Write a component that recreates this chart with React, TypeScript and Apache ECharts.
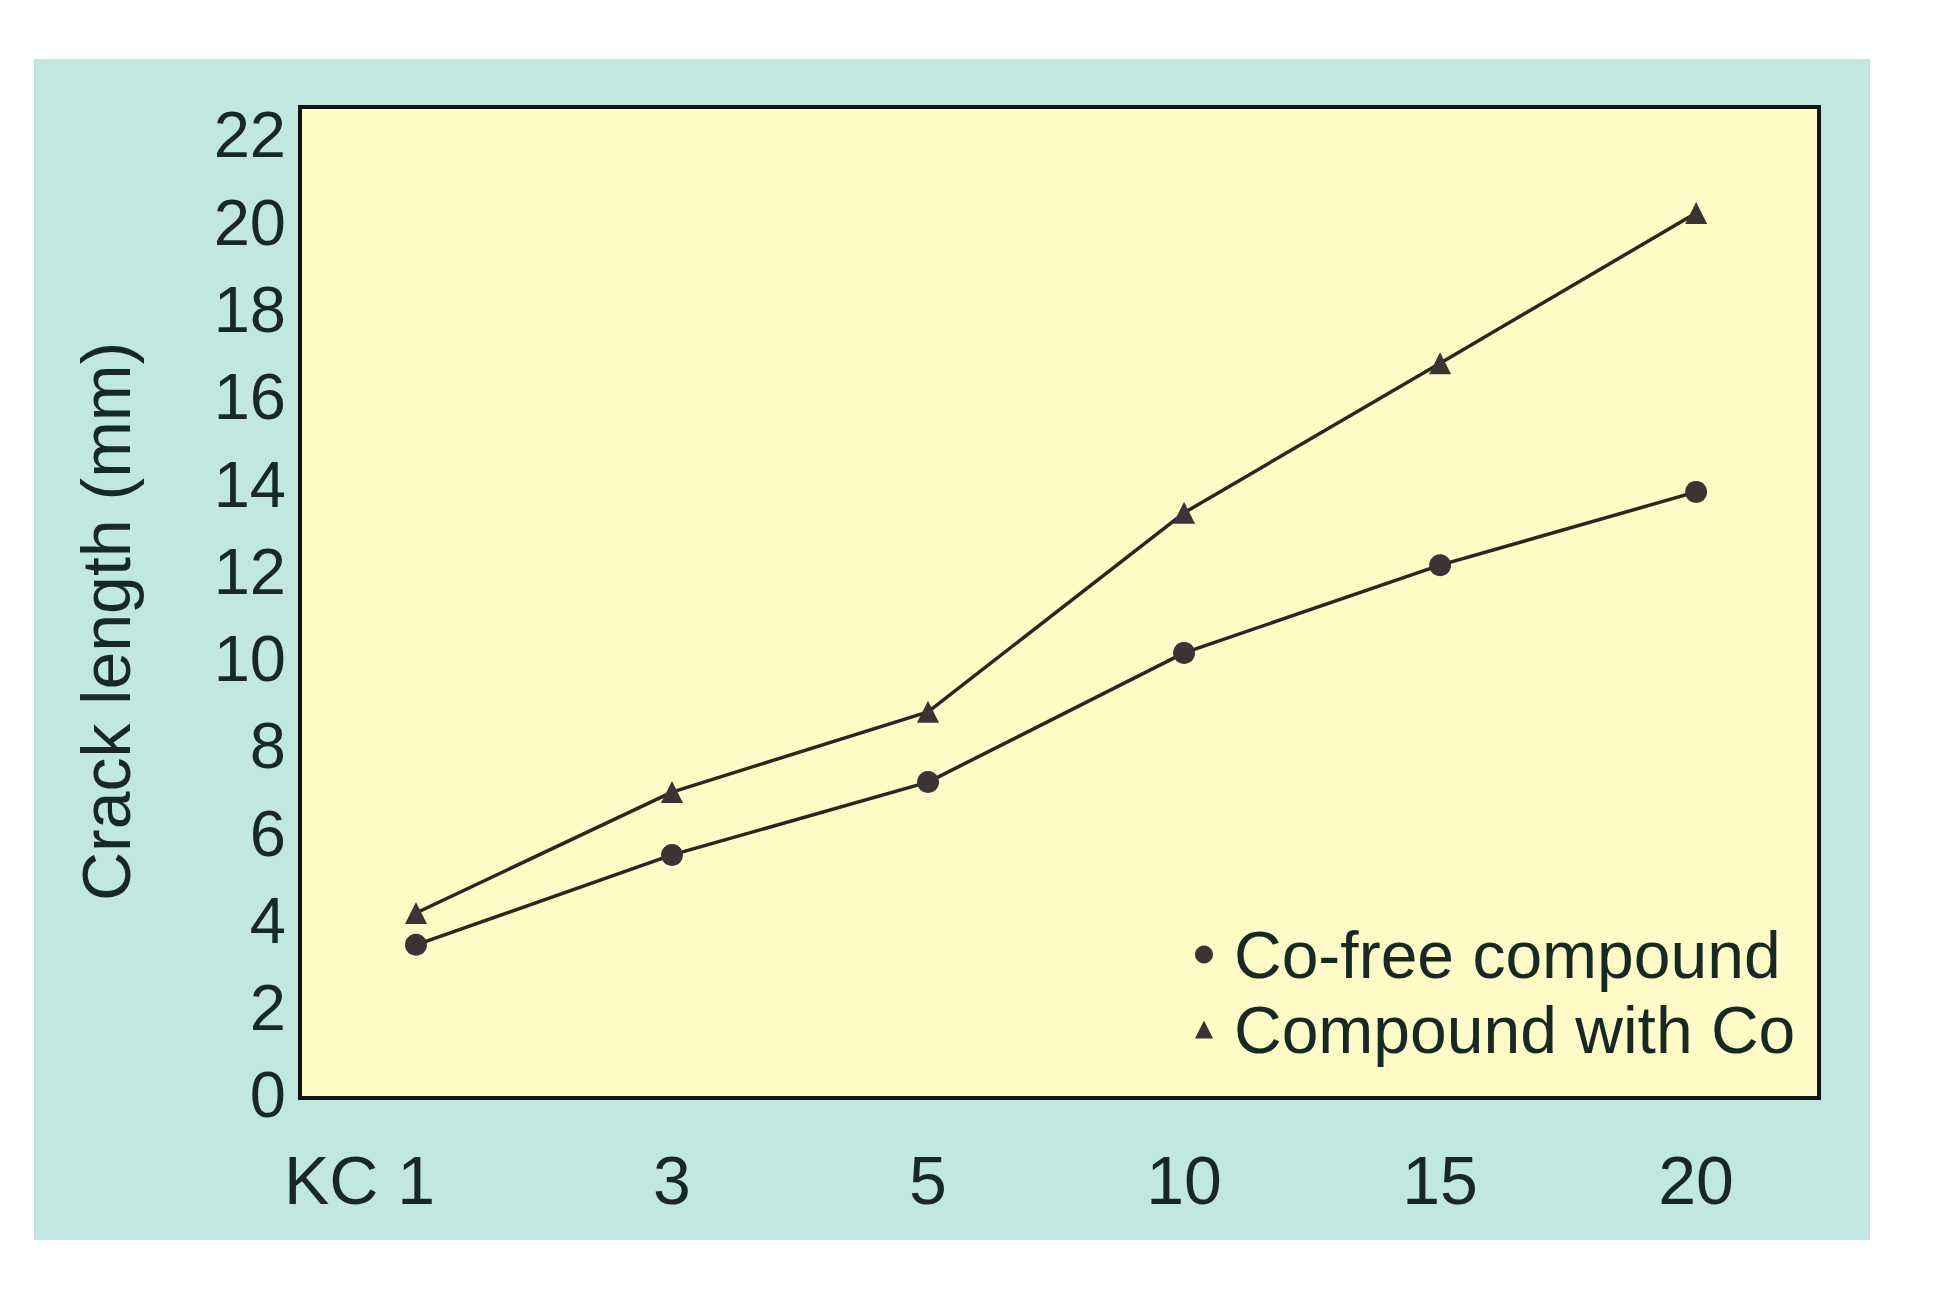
import React, { useEffect, useRef } from "react";
import * as echarts from "echarts";

// ---- data ----
const categories = ["KC 1", "3", "5", "10", "15", "20"];
const coFree = [3.44, 5.5, 7.17, 10.13, 12.14, 13.82];
const withCo = [4.17, 6.94, 8.78, 13.34, 16.77, 20.21];
const yTicks = [0, 2, 4, 6, 8, 10, 12, 14, 16, 18, 20, 22];
const seriesNames = ["Co-free compound", "Compound with Co"];
const yAxisTitle = "Crack length (mm)";

const FONT = "'Liberation Sans', Arial, Helvetica, sans-serif";
const TEXT = "#182824";
const MARK = "#3a3434";
const LINE = "#2a2620";

export default function App() {
  const ref = useRef<HTMLDivElement>(null);

  useEffect(() => {
    if (!ref.current) return;
    const chart = echarts.init(ref.current, null, { renderer: "svg" });

    const xIdx = categories.map((_, i) => i);

    const option: any = {
      animation: false,
      backgroundColor: "#ffffff",
      graphic: [
        {
          type: "rect",
          z: -100,
          shape: { x: 34, y: 59, width: 1836, height: 1181 },
          style: { fill: "#c0e8e0" },
        },
      ],
      grid: {
        left: 300,
        top: 107,
        width: 1519,
        height: 991,
        show: true,
        backgroundColor: "#fffbc6",
        borderColor: "#141414",
        borderWidth: 4,
      },
      xAxis: {
        type: "value",
        min: -0.453,
        max: 5.48,
        axisLine: { show: false },
        axisTick: { show: false },
        splitLine: { show: false },
        axisLabel: {
          customValues: xIdx,
          fontSize: 68,
          fontFamily: FONT,
          color: TEXT,
          margin: 48,
          formatter: (v: number) => {
            const i = Math.round(v);
            const lab = categories[i] ?? "";
            const sp = lab.lastIndexOf(" ");
            if (sp > 0) {
              return `{a|${lab.slice(0, sp + 1)}}{n|${lab.slice(sp + 1)}}`;
            }
            return lab;
          },
          rich: {
            a: { fontSize: 68, fontFamily: FONT, color: TEXT },
            n: { fontSize: 68, fontFamily: FONT, color: TEXT, padding: [0, 113, 0, 0] },
          },
        },
      },
      yAxis: {
        type: "value",
        min: -0.07,
        max: 22.64,
        axisLine: { show: false },
        axisTick: { show: false },
        splitLine: { show: false },
        axisLabel: {
          customValues: yTicks,
          fontSize: 65,
          fontFamily: FONT,
          color: TEXT,
          margin: 14,
        },
        name: yAxisTitle,
        nameLocation: "middle",
        nameGap: 160,
        nameRotate: 90,
        nameTextStyle: {
          fontSize: 68,
          fontFamily: FONT,
          color: TEXT,
          padding: [0, 38, 0, 0],
        },
      },
      legend: {
        orient: "vertical",
        left: 1190,
        top: 912,
        itemWidth: 18,
        itemHeight: 18,
        itemGap: 0,
        selectedMode: false,
        data: [
          { name: seriesNames[0], icon: "circle" },
          { name: seriesNames[1], icon: "triangle" },
        ],
        textStyle: {
          fontSize: 66,
          fontFamily: FONT,
          color: TEXT,
          lineHeight: 75,
          padding: [0, 0, 0, 16],
        },
      },
      series: [
        {
          name: seriesNames[0],
          type: "line",
          data: coFree.map((v, i) => [xIdx[i], v]),
          symbol: "circle",
          symbolSize: 22,
          lineStyle: { color: LINE, width: 3.5 },
          itemStyle: { color: MARK },
        },
        {
          name: seriesNames[1],
          type: "line",
          data: withCo.map((v, i) => [xIdx[i], v]),
          symbol: "triangle",
          symbolSize: 22,
          lineStyle: { color: LINE, width: 3.5 },
          itemStyle: { color: MARK },
        },
      ],
    };

    chart.setOption(option);
    return () => chart.dispose();
  }, []);

  return (
    <div
      ref={ref}
      style={{ position: "absolute", left: 0, top: 0, width: 1939, height: 1291 }}
    />
  );
}
